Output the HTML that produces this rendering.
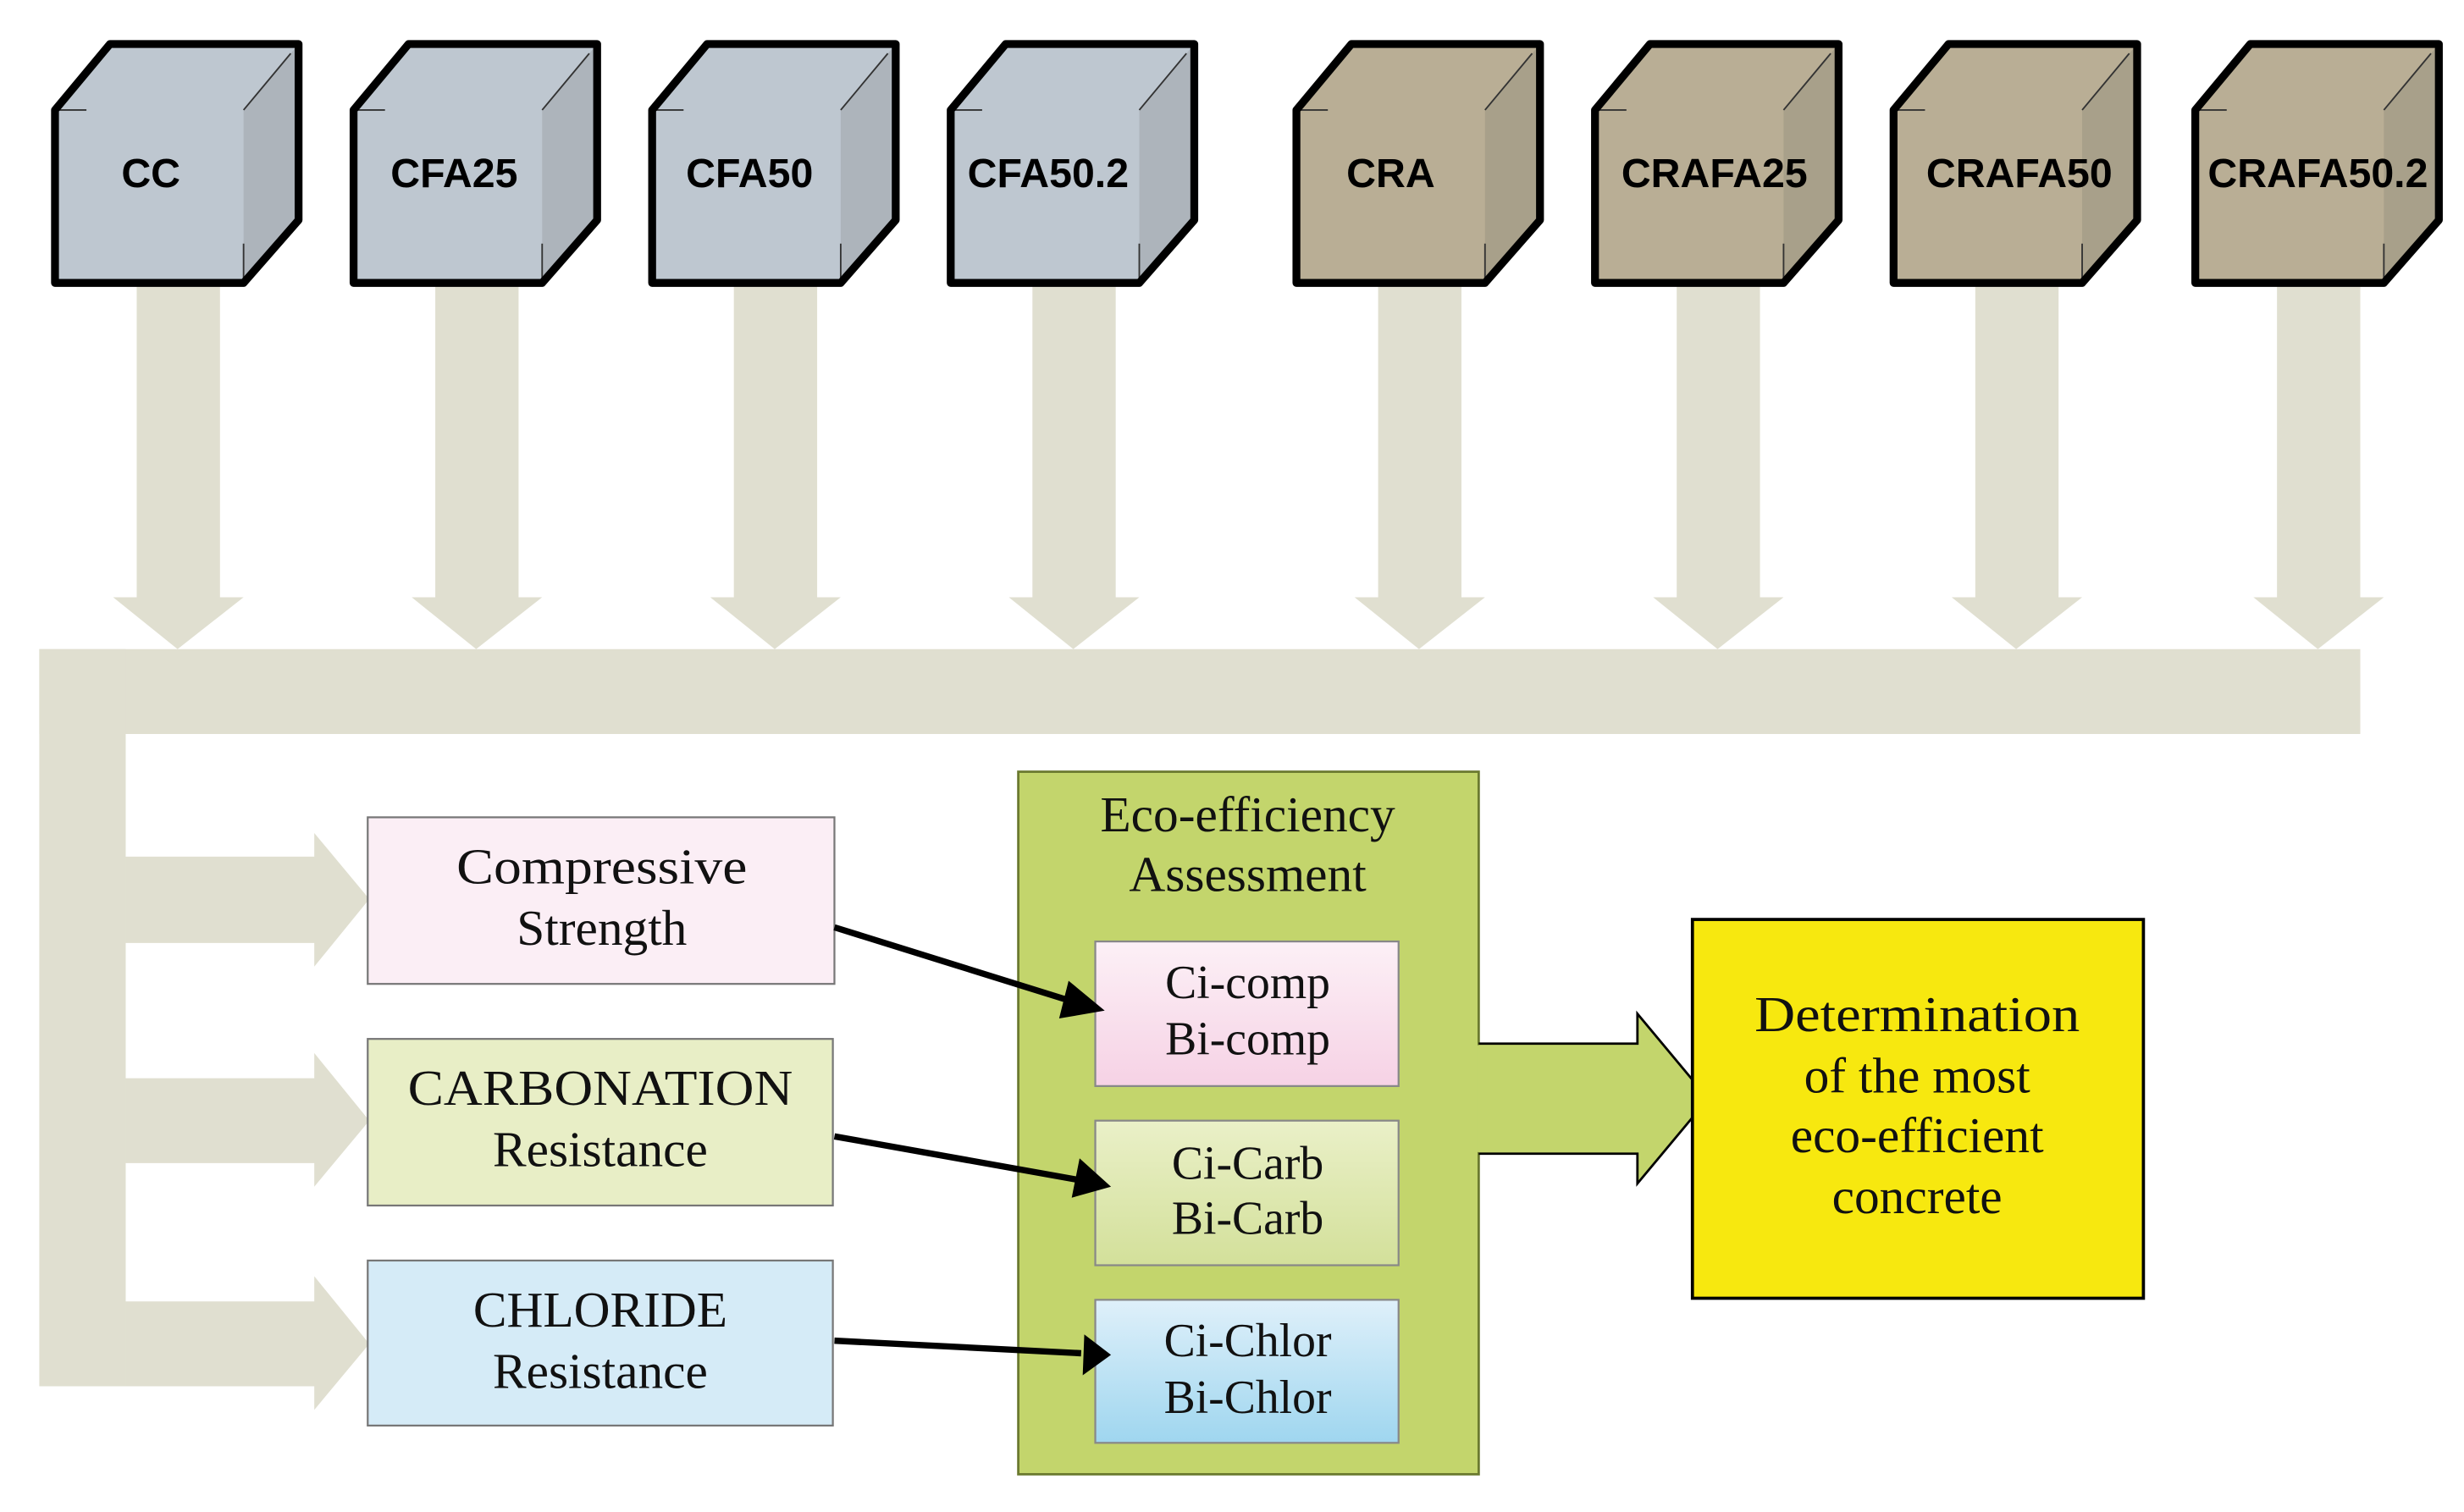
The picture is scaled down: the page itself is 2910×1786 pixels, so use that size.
<!DOCTYPE html>
<html><head><meta charset="utf-8"><style>html,body{margin:0;padding:0;background:#fff}svg{display:block}</style></head>
<body>
<svg width="2910" height="1786" viewBox="0 0 1568 962" preserveAspectRatio="none" xmlns="http://www.w3.org/2000/svg">
<defs>
<linearGradient id="gp" x1="0" y1="0" x2="0" y2="1"><stop offset="0" stop-color="#fcf0f6"/><stop offset="1" stop-color="#f6d2e5"/></linearGradient>
<linearGradient id="gg" x1="0" y1="0" x2="0" y2="1"><stop offset="0" stop-color="#eaf0c8"/><stop offset="1" stop-color="#d3e09a"/></linearGradient>
<linearGradient id="gb" x1="0" y1="0" x2="0" y2="1"><stop offset="0" stop-color="#dff0fa"/><stop offset="1" stop-color="#9fd6ef"/></linearGradient>
<g id="cubeB">
<path d="M35,70 L70,28 L190,28 L190,140 L155,180 L35,180 Z" fill="#bec7d0"/>
<path d="M155,70 L190,28 L190,140 L155,180 Z" fill="#adb4bb"/>
<path d="M155,70 L185,34 M155,155 L155,180 M36,70 L55,70" stroke="#333" stroke-width="1" fill="none"/>
<path d="M35,70 L70,28 L190,28 L190,140 L155,180 L35,180 Z" fill="none" stroke="#000" stroke-width="5" stroke-linejoin="round"/>
</g>
<g id="cubeT">
<path d="M35,70 L70,28 L190,28 L190,140 L155,180 L35,180 Z" fill="#b9ae95"/>
<path d="M155,70 L190,28 L190,140 L155,180 Z" fill="#a8a08a"/>
<path d="M155,70 L185,34 M155,155 L155,180 M36,70 L55,70" stroke="#333" stroke-width="1" fill="none"/>
<path d="M35,70 L70,28 L190,28 L190,140 L155,180 L35,180 Z" fill="none" stroke="#000" stroke-width="5" stroke-linejoin="round"/>
</g>
<path id="dn" d="M87,180 L140,180 L140,380 L155,380 L113,413 L72,380 L87,380 Z" fill="#e0dfd0"/>
</defs>

<g fill="#e0dfd0">
<rect x="25" y="413" width="1477" height="54"/>
<rect x="25" y="413" width="55" height="469"/>
<path d="M80,545 L200,545 L200,530 L235,572 L200,615 L200,600 L80,600 Z"/>
<path d="M80,686 L200,686 L200,670 L235,713 L200,755 L200,740 L80,740 Z"/>
<path d="M80,828 L200,828 L200,812 L235,855 L200,897 L200,882 L80,882 Z"/>
</g>

<use href="#dn" x="0"/><use href="#dn" x="190"/><use href="#dn" x="380"/><use href="#dn" x="570"/>
<use href="#dn" x="790"/><use href="#dn" x="980"/><use href="#dn" x="1170"/><use href="#dn" x="1362"/>

<use href="#cubeB" x="0"/><use href="#cubeB" x="190"/><use href="#cubeB" x="380"/><use href="#cubeB" x="570"/>
<use href="#cubeT" x="790"/><use href="#cubeT" x="980"/><use href="#cubeT" x="1170"/><use href="#cubeT" x="1362"/>

<g font-family="Liberation Sans, sans-serif" font-weight="bold" font-size="26" text-anchor="middle" fill="#000">
<text x="96" y="119">CC</text>
<text x="289" y="119">CFA25</text>
<text x="477" y="119">CFA50</text>
<text x="667" y="119">CFA50.2</text>
<text x="885" y="119">CRA</text>
<text x="1091" y="119">CRAFA25</text>
<text x="1285" y="119">CRAFA50</text>
<text x="1475" y="119">CRAFA50.2</text>
</g>

<rect x="234" y="520" width="297" height="106" fill="#fbeef5" stroke="#777" stroke-width="1.2"/>
<rect x="234" y="661" width="296" height="106" fill="#e8eec6" stroke="#777" stroke-width="1.2"/>
<rect x="234" y="802" width="296" height="105" fill="#d5ebf7" stroke="#777" stroke-width="1.2"/>

<rect x="648" y="491" width="293" height="447" fill="#c3d56c" stroke="#6b7a30" stroke-width="1.5"/>
<path d="M941,664 L1042,664 L1042,645 L1087,699 L1042,753 L1042,734 L941,734" fill="#c3d56c" stroke="#000" stroke-width="1.5"/>
<rect x="940" y="665" width="4" height="68" fill="#c3d56c"/>

<rect x="697" y="599" width="193" height="92" fill="url(#gp)" stroke="#888" stroke-width="1.2"/>
<rect x="697" y="713" width="193" height="92" fill="url(#gg)" stroke="#888" stroke-width="1.2"/>
<rect x="697" y="827" width="193" height="91" fill="url(#gb)" stroke="#888" stroke-width="1.2"/>

<rect x="1077" y="585" width="287" height="241" fill="#f7e80f" stroke="#000" stroke-width="2"/>

<g stroke="#000" stroke-width="4" fill="none">
<line x1="531" y1="590" x2="685" y2="638"/>
<line x1="531" y1="723" x2="688" y2="751"/>
<line x1="531" y1="853" x2="688" y2="861"/>
</g>
<g fill="#000">
<path d="M703,643 L680,624 L674,648 Z"/>
<path d="M707,755 L687,737 L682,762 Z"/>
<path d="M707,862 L690,849 L689,875 Z"/>
</g>

<g font-family="Liberation Serif, serif" font-size="32" text-anchor="middle" fill="#111">
<text x="383" y="562" textLength="185" lengthAdjust="spacingAndGlyphs">Compressive</text>
<text x="383" y="601">Strength</text>
<text x="382" y="703" textLength="245" lengthAdjust="spacingAndGlyphs">CARBONATION</text>
<text x="382" y="742">Resistance</text>
<text x="382" y="844">CHLORIDE</text>
<text x="382" y="883">Resistance</text>
<text x="794" y="529">Eco-efficiency</text>
<text x="794" y="567">Assessment</text>
<text x="794" y="635" font-size="30">Ci-comp</text>
<text x="794" y="671" font-size="30">Bi-comp</text>
<text x="794" y="750" font-size="30">Ci-Carb</text>
<text x="794" y="785" font-size="30">Bi-Carb</text>
<text x="794" y="863" font-size="30">Ci-Chlor</text>
<text x="794" y="899" font-size="30">Bi-Chlor</text>
<text x="1220" y="656" textLength="207" lengthAdjust="spacingAndGlyphs">Determination</text>
<text x="1220" y="695">of the most</text>
<text x="1220" y="733">eco-efficient</text>
<text x="1220" y="772">concrete</text>
</g>
</svg>
</body></html>
